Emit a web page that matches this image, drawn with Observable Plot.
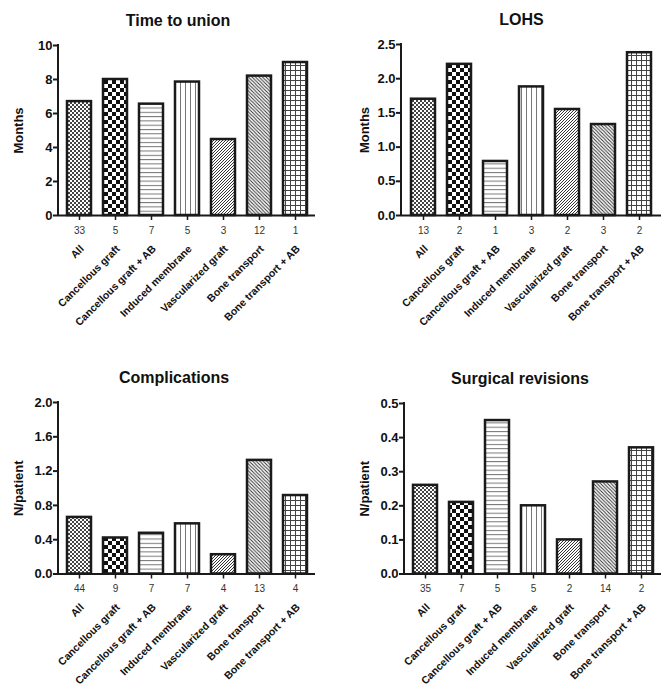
<!DOCTYPE html>
<html>
<head>
<meta charset="utf-8">
<script src="https://cdn.jsdelivr.net/npm/d3@7"></script>
<script src="https://cdn.jsdelivr.net/npm/@observablehq/plot@0.6"></script>
<style>
  html, body { margin: 0; padding: 0; background: #fff; }
  #wrap { width: 672px; height: 689px; display: flex; flex-wrap: wrap; }
  #wrap svg { display: block; font-family: "Liberation Sans", Arial, sans-serif; }
</style>
</head>
<body>
<svg width="0" height="0" style="position:absolute">
  <defs>
    <pattern id="pat0" patternUnits="userSpaceOnUse" width="4" height="4">
      <rect width="4" height="4" fill="#fff"/>
      <rect x="0" y="0" width="2" height="2" fill="#444"/>
      <rect x="2" y="2" width="2" height="2" fill="#444"/>
    </pattern>
    <pattern id="pat1" patternUnits="userSpaceOnUse" width="8" height="8">
      <rect width="8" height="8" fill="#fff"/>
      <rect x="0" y="0" width="4" height="4" fill="#111"/>
      <rect x="4" y="4" width="4" height="4" fill="#111"/>
    </pattern>
    <pattern id="pat2" patternUnits="userSpaceOnUse" width="4" height="4.3">
      <rect width="4" height="4.3" fill="#fff"/>
      <rect x="0" y="0" width="4" height="1" fill="#777"/>
    </pattern>
    <pattern id="pat3" patternUnits="userSpaceOnUse" width="5" height="5">
      <rect width="5" height="5" fill="#fff"/>
      <rect x="0" y="0" width="1" height="5" fill="#777"/>
    </pattern>
    <pattern id="pat4" patternUnits="userSpaceOnUse" width="3" height="3">
      <rect width="3" height="3" fill="#fff"/>
      <path d="M-1,1 L1,-1 M0,3 L3,0 M2,4 L4,2" stroke="#333" stroke-width="1"/>
    </pattern>
    <pattern id="pat5" patternUnits="userSpaceOnUse" width="3.5" height="3.5">
      <rect width="3.5" height="3.5" fill="#fff"/>
      <path d="M-1,2.5 L1,4.5 M0,0 L3.5,3.5 M2.5,-1 L4.5,1" stroke="#333" stroke-width="1"/>
    </pattern>
    <pattern id="pat6" patternUnits="userSpaceOnUse" width="5" height="5">
      <rect width="5" height="5" fill="#fff"/>
      <rect x="0" y="0" width="5" height="1" fill="#444"/>
      <rect x="0" y="0" width="1" height="5" fill="#444"/>
    </pattern>
  </defs>
</svg>
<div id="wrap"></div>
<script>
// ---- data ----
const categories = ["All", "Cancellous graft", "Cancellous graft + AB", "Induced membrane",
                    "Vascularized graft", "Bone transport", "Bone transport + AB"];

const unionTitle = "Time to union";
const unionLabel = "Months";
const unionValues = [6.7, 8.0, 6.55, 7.85, 4.47, 8.2, 9.0];
const unionCounts = ["33", "5", "7", "5", "3", "12", "1"];
const unionTicks = [0, 2, 4, 6, 8, 10];

const lohsTitle = "LOHS";
const lohsLabel = "Months";
const lohsValues = [1.70, 2.21, 0.79, 1.88, 1.55, 1.33, 2.38];
const lohsCounts = ["13", "2", "1", "3", "2", "3", "2"];
const lohsTicks = [0, 0.5, 1.0, 1.5, 2.0, 2.5];

const compTitle = "Complications";
const compLabel = "N/patient";
const compValues = [0.66, 0.42, 0.475, 0.585, 0.225, 1.325, 0.915];
const compCounts = ["44", "9", "7", "7", "4", "13", "4"];
const compTicks = [0, 0.4, 0.8, 1.2, 1.6, 2.0];

const revTitle = "Surgical revisions";
const revLabel = "N/patient";
const revValues = [0.26, 0.21, 0.45, 0.20, 0.10, 0.27, 0.37];
const revCounts = ["35", "7", "5", "5", "2", "14", "2"];
const revTicks = [0, 0.1, 0.2, 0.3, 0.4, 0.5];

const patterns = ["url(#pat0)", "url(#pat1)", "url(#pat2)", "url(#pat3)", "url(#pat4)", "url(#pat5)", "url(#pat6)"];

// ---- layout ----
const panels = [
  {title: unionTitle, label: unionLabel, values: unionValues, counts: unionCounts, ticks: unionTicks, dec: 0,
   h: 345, ml: 58, mr: 21, mt: 45, titleDx: -9, labelDx: -40},
  {title: lohsTitle, label: lohsLabel, values: lohsValues, counts: lohsCounts, ticks: lohsTicks, dec: 1,
   h: 345, ml: 65, mr: 11, mt: 44, titleDx: -10, labelDx: -37},
  {title: compTitle, label: compLabel, values: compValues, counts: compCounts, ticks: compTicks, dec: 1,
   h: 344, ml: 58, mr: 21, mt: 57, titleDx: -13, labelDx: -40},
  {title: revTitle, label: revLabel, values: revValues, counts: revCounts, ticks: revTicks, dec: 1,
   h: 344, ml: 68, mr: 11, mt: 58, titleDx: -13, labelDx: -40}
];
const plotBottomTop = 215;
const plotBottomBottom = 228.5;

// vertical axis line drawn along the left edge of the frame, through the y scale
const yAxisLine = (top) => (index, scales, values, dims) =>
  d3.create("svg:line")
    .attr("x1", dims.marginLeft).attr("x2", dims.marginLeft)
    .attr("y1", scales.y(top) - 1).attr("y2", scales.y(0) + 1)
    .attr("stroke", "#1a1a1a").attr("stroke-width", 2)
    .node();

const wrap = document.getElementById("wrap");
panels.forEach((p, k) => {
  const frameBottom = k < 2 ? plotBottomTop : plotBottomBottom;
  const yTop = p.ticks[p.ticks.length - 1];
  const rows = categories.map((c, i) => ({cat: c, value: p.values[i], count: p.counts[i], fill: patterns[i]}));
  const chart = Plot.plot({
    width: 336,
    height: p.h,
    marginLeft: p.ml,
    marginRight: p.mr,
    marginTop: p.mt,
    marginBottom: p.h - frameBottom,
    style: {fontFamily: '"Liberation Sans", Arial, sans-serif', color: "#111", background: "#fff"},
    x: {type: "band", domain: categories, paddingInner: 0.34, paddingOuter: 0.21, axis: null},
    y: {domain: [p.ticks[0], yTop], axis: null},
    color: {type: "identity"},
    marks: [
      Plot.barY(rows, {x: "cat", y: "value", fill: "fill", stroke: "#1a1a1a", strokeWidth: 2.5}),
      Plot.ruleY([0], {stroke: "#1a1a1a", strokeWidth: 2}),
      yAxisLine(yTop),
      Plot.axisY({ticks: p.ticks, tickSize: 5, tickPadding: 1, strokeWidth: 2, stroke: "#1a1a1a",
                  tickFormat: d => d.toFixed(p.dec), fontSize: 13, fontWeight: "bold", fill: "#111", label: null}),
      Plot.axisX({ticks: categories, tickSize: 5, tickPadding: 6, strokeWidth: 1.5, stroke: "#1a1a1a",
                  tickFormat: d => p.counts[categories.indexOf(d)], fontSize: 10, fill: "#333", label: null}),
      Plot.text(categories, {x: d => d, frameAnchor: "bottom", dy: 34, dx: 5, rotate: -45, textAnchor: "end",
                  fontSize: 10.5, fontWeight: "bold", fill: "#111"}),
      Plot.text([p.title], {frameAnchor: "top", dy: -25, dx: p.titleDx, lineAnchor: "middle",
                  fontSize: 16, fontWeight: "bold", fill: "#111"}),
      Plot.text([p.label], {frameAnchor: "left", dx: p.labelDx, rotate: -90, textAnchor: "middle",
                  fontSize: 13, fontWeight: "bold", fill: "#111"})
    ]
  });
  wrap.appendChild(chart);
});
</script>
</body>
</html>
